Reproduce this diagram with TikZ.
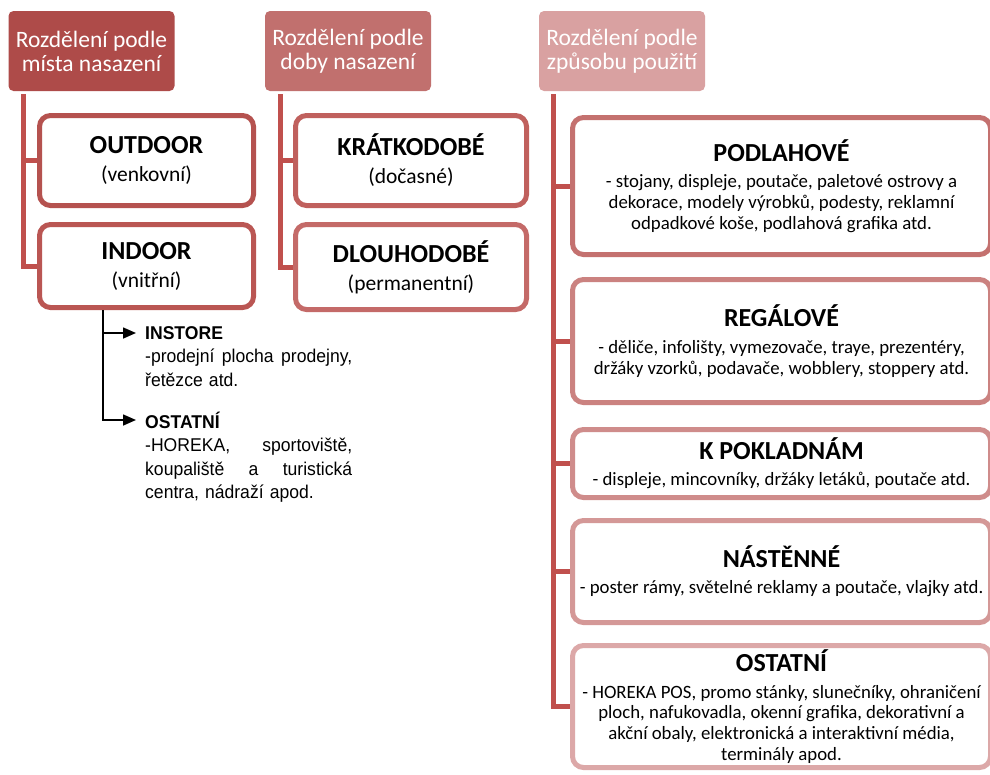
\documentclass[tikz,border=0pt]{standalone}
\usepackage{fontspec}
\setmainfont{Carlito}
\newfontfamily\narrowfont[FakeStretch=0.95]{Liberation Sans}
\usetikzlibrary{arrows.meta}

% palette
\definecolor{hdA}{HTML}{AE4B49}
\definecolor{hdB}{HTML}{C1706E}
\definecolor{hdC}{HTML}{D9A1A1}
\definecolor{trunkred}{HTML}{C0504D}
\definecolor{bxA}{HTML}{B5524F}
\definecolor{bxB}{HTML}{BA5653}
\definecolor{bxC}{HTML}{C0605D}
\definecolor{bxD}{HTML}{C46A68}
\definecolor{rbA}{HTML}{C4716F}
\definecolor{rbB}{HTML}{CB8280}
\definecolor{rbC}{HTML}{CF8C8B}
\definecolor{rbD}{HTML}{D49897}
\definecolor{rbE}{HTML}{DCA8A8}

\newcommand{\ttl}{\fontsize{26}{28}\selectfont\bfseries}
\newcommand{\subt}{\fontsize{21.5}{28}\selectfont}

\tikzset{
  header/.style={rectangle, rounded corners=5pt, minimum width=166pt,
    minimum height=80pt, inner sep=0pt, text=white, align=center,
    font=\fontsize{23.5}{24}\selectfont},
  catbox/.style={rectangle, draw, line width=5pt, rounded corners=11pt,
    fill=white, inner sep=0pt, align=center},
  pairtext/.style={font=\fontsize{21.5}{28}\selectfont},
  bodytext/.style={font=\fontsize{18.8}{20.8}\selectfont},
  conn/.style={draw=trunkred, line width=5pt},
  blk/.style={draw=black, line width=1.6pt,
    -{Triangle[length=13pt,width=11pt]}, shorten >=9pt},
  subttl/.style={anchor=west, inner sep=0pt,
    font=\narrowfont\fontsize{18.5}{23.3}\selectfont\bfseries},
  subdesc/.style={anchor=north west, inner sep=0pt, text width=207pt,
    align=left, font=\narrowfont\fontsize{18.5}{23.5}\selectfont}
}

\begin{document}
\begin{tikzpicture}[x=1pt,y=-1pt]
\useasboundingbox (0,0) rectangle (990,774);

% column headers
\node[header, fill=hdA] (h1) at (91.5,51) {Rozdělení podle\\místa nasazení};
\node[header, fill=hdB] (h2) at (348,51) {Rozdělení podle\\doby nasazení};
\node[header, fill=hdC] (h3) at (622,51) {Rozdělení podle\\způsobu použití};

% column 1: place of use
\node[catbox, pairtext, draw=bxA, minimum width=214pt, minimum height=90pt] (outd) at (146.5,160.5)
  {{\ttl OUTDOOR}\\{\subt (venkovní)}};
\node[catbox, pairtext, draw=bxB, minimum width=214pt, minimum height=83pt] (ind) at (146.5,266)
  {{\ttl INDOOR}\\{\subt (vnitřní)}};

% column 2: duration
\node[catbox, pairtext, draw=bxC, minimum width=231pt, minimum height=90pt] (kratk) at (411,160.5)
  {{\ttl KRÁTKODOBÉ}\\{\subt (dočasné)}};
\node[catbox, pairtext, draw=bxD, minimum width=231pt, minimum height=85pt] (dlouh) at (411,267)
  {{\ttl DLOUHODOBÉ}\\{\subt (permanentní)}};

% column 3: way of use
\node[catbox, bodytext, draw=rbA, minimum width=418pt, minimum height=137pt] (podl) at (781.5,186)
  {{\ttl PODLAHOVÉ}\\[6pt]
   - stojany, displeje, poutače, paletové ostrovy a\\
   dekorace, modely výrobků, podesty, reklamní\\
   odpadkové koše, podlahová grafika atd.};
\node[catbox, bodytext, draw=rbB, minimum width=418pt, minimum height=123pt] (regal) at (781.5,341)
  {{\ttl REGÁLOVÉ}\\[6pt]
   - děliče, infolišty, vymezovače, traye, prezentéry,\\
   držáky vzorků, podavače, wobblery, stoppery atd.};
\node[catbox, bodytext, draw=rbC, minimum width=418pt, minimum height=68pt] (pokl) at (781.5,463.5)
  {{\ttl K POKLADNÁM}\\[5pt]
   - displeje, mincovníky, držáky letáků, poutače atd.};
\node[catbox, bodytext, draw=rbD, minimum width=418pt, minimum height=102pt] (nast) at (781.5,571.5)
  {{\ttl NÁSTĚNNÉ}\\[5pt]
   - poster rámy, světelné reklamy a poutače, vlajky atd.};
\node[catbox, bodytext, draw=rbE, minimum width=418pt, minimum height=122pt] (ost) at (781.5,706.5)
  {{\ttl OSTATNÍ}\\[6pt]
   - HOREKA POS, promo stánky, slunečníky, ohraničení\\
   ploch, nafukovadla, okenní grafika, dekorativní a\\
   akční obaly, elektronická a interaktivní média,\\
   terminály apod.};

% trunk lines from the headers
\coordinate (t1) at (23,94);
\coordinate (t2) at (280,94);
\coordinate (t3) at (553,94);
\draw[conn] (t1) |- (ind.west);
\draw[conn] (t1 |- outd.west) -- (outd.west);
\draw[conn] (t2) |- (dlouh.west);
\draw[conn] (t2 |- kratk.west) -- (kratk.west);
\draw[conn] (t3) |- (ost.west);
\draw[conn] (t3 |- podl.west) -- (podl.west);
\draw[conn] (t3 |- regal.west) -- (regal.west);
\draw[conn] (t3 |- pokl.west) -- (pokl.west);
\draw[conn] (t3 |- nast.west) -- (nast.west);

% indoor subdivisions
\node[subttl] (inst) at (145,333) {INSTORE};
\node[subdesc] (instd) at (145,349)
  {\makebox[207pt][l]{-prodejní\hfill plocha\hfill prodejny,}\\řetězce atd.};
\node[subttl] (othr) at (145,420) {OSTATNÍ};
\node[subdesc] (othrd) at (145,438)
  {\makebox[207pt][l]{-HOREKA,\hfill sportoviště,}\\
   \makebox[207pt][l]{koupaliště\hfill a\hfill turistická}\\
   centra, nádraží apod.};

\coordinate (ib) at (103,310);
\draw[blk] (ib) |- (othr.west);
\draw[blk] (ib |- inst.west) -- (inst.west);
\end{tikzpicture}
\end{document}
